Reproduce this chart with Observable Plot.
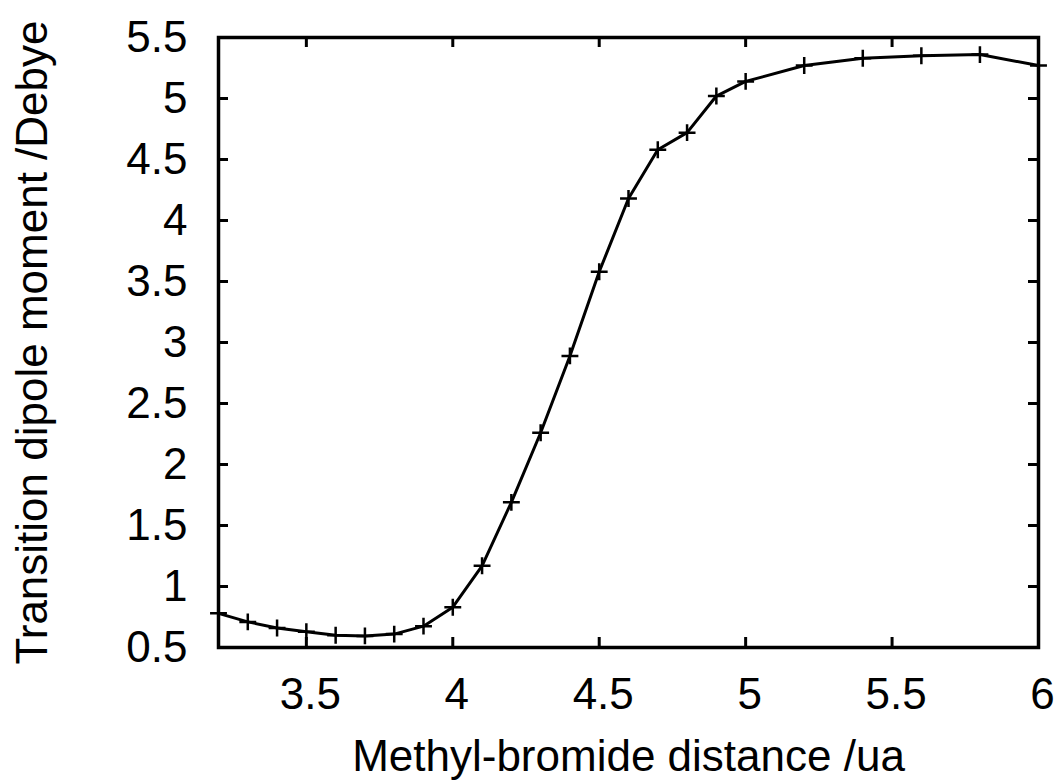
<!DOCTYPE html>
<html>
<head>
<meta charset="utf-8">
<script src="https://cdn.jsdelivr.net/npm/d3@7"></script>
<script src="https://cdn.jsdelivr.net/npm/@observablehq/plot@0.6"></script>
<style>
  html, body { margin: 0; padding: 0; background: #fff; }
  #chart svg { display: block; }
</style>
</head>
<body>
<div id="chart"></div>
<script>
// Data
const distance = [3.2, 3.3, 3.4, 3.5, 3.6, 3.7, 3.8, 3.9, 4.0, 4.1, 4.2, 4.3, 4.4, 4.5, 4.6, 4.7, 4.8, 4.9, 5.0, 5.2, 5.4, 5.6, 5.8, 6.0];
const dipole   = [0.78, 0.71, 0.66, 0.63, 0.60, 0.595, 0.61, 0.675, 0.83, 1.17, 1.69, 2.26, 2.89, 3.58, 4.18, 4.58, 4.72, 5.02, 5.14, 5.27, 5.33, 5.35, 5.36, 5.27];
const xTicks = [3.5, 4, 4.5, 5, 5.5, 6];
const yTicks = [0.5, 1, 1.5, 2, 2.5, 3, 3.5, 4, 4.5, 5, 5.5];
const xLabel = "Methyl-bromide distance /ua";
const yLabel = "Transition dipole moment /Debye";

const data = distance.map((d, i) => ({x: d, y: dipole[i]}));
const fs = 44;
const W = 1058, H = 780;
const mL = 218, mR = 20, mT = 37, mB = 133;
const frameW = W - mL - mR, frameH = H - mT - mB;
const tick = 10;

const chart = Plot.plot({
  width: W,
  height: H,
  marginLeft: mL,
  marginRight: mR,
  marginTop: mT,
  marginBottom: mB,
  style: {fontFamily: "'Liberation Sans', Arial, Helvetica, sans-serif", fontSize: fs + "px", color: "#000", background: "#fff"},
  x: {domain: [3.2, 6], axis: null},
  y: {domain: [0.5, 5.5], axis: null},
  marks: [
    // inward ticks on all four sides
    Plot.tickX(xTicks, {x: d => d, insetTop: frameH - tick, stroke: "#000", strokeWidth: 3}),
    Plot.tickX(xTicks, {x: d => d, insetBottom: frameH - tick, stroke: "#000", strokeWidth: 3}),
    Plot.tickY(yTicks, {y: d => d, insetRight: frameW - tick, stroke: "#000", strokeWidth: 3}),
    Plot.tickY(yTicks, {y: d => d, insetLeft: frameW - tick, stroke: "#000", strokeWidth: 3}),
    Plot.axisX(xTicks, {anchor: "bottom", tickSize: 0, tickPadding: 30, dx: 4, fontSize: fs, color: "#000", label: null, tickFormat: d => String(d)}),
    Plot.axisY(yTicks, {anchor: "left", tickSize: 0, tickPadding: 31, fontSize: fs, color: "#000", label: null, tickFormat: d => String(d)}),
    Plot.line(data, {x: "x", y: "y", stroke: "#000", strokeWidth: 3}),
    Plot.dot(data, {x: "x", y: "y", symbol: "plus", r: 5.5, stroke: "#000", strokeWidth: 2.5}),
    Plot.frame({stroke: "#000", strokeWidth: 3.5}),
    Plot.text([xLabel], {frameAnchor: "bottom", dy: 92, lineAnchor: "top", textAnchor: "middle", fontSize: fs, fill: "#000"}),
    Plot.text([yLabel], {frameAnchor: "left", rotate: -90, dx: -203, lineAnchor: "top", textAnchor: "middle", fontSize: fs, fill: "#000"})
  ]
});
document.getElementById("chart").appendChild(chart);
</script>
</body>
</html>
